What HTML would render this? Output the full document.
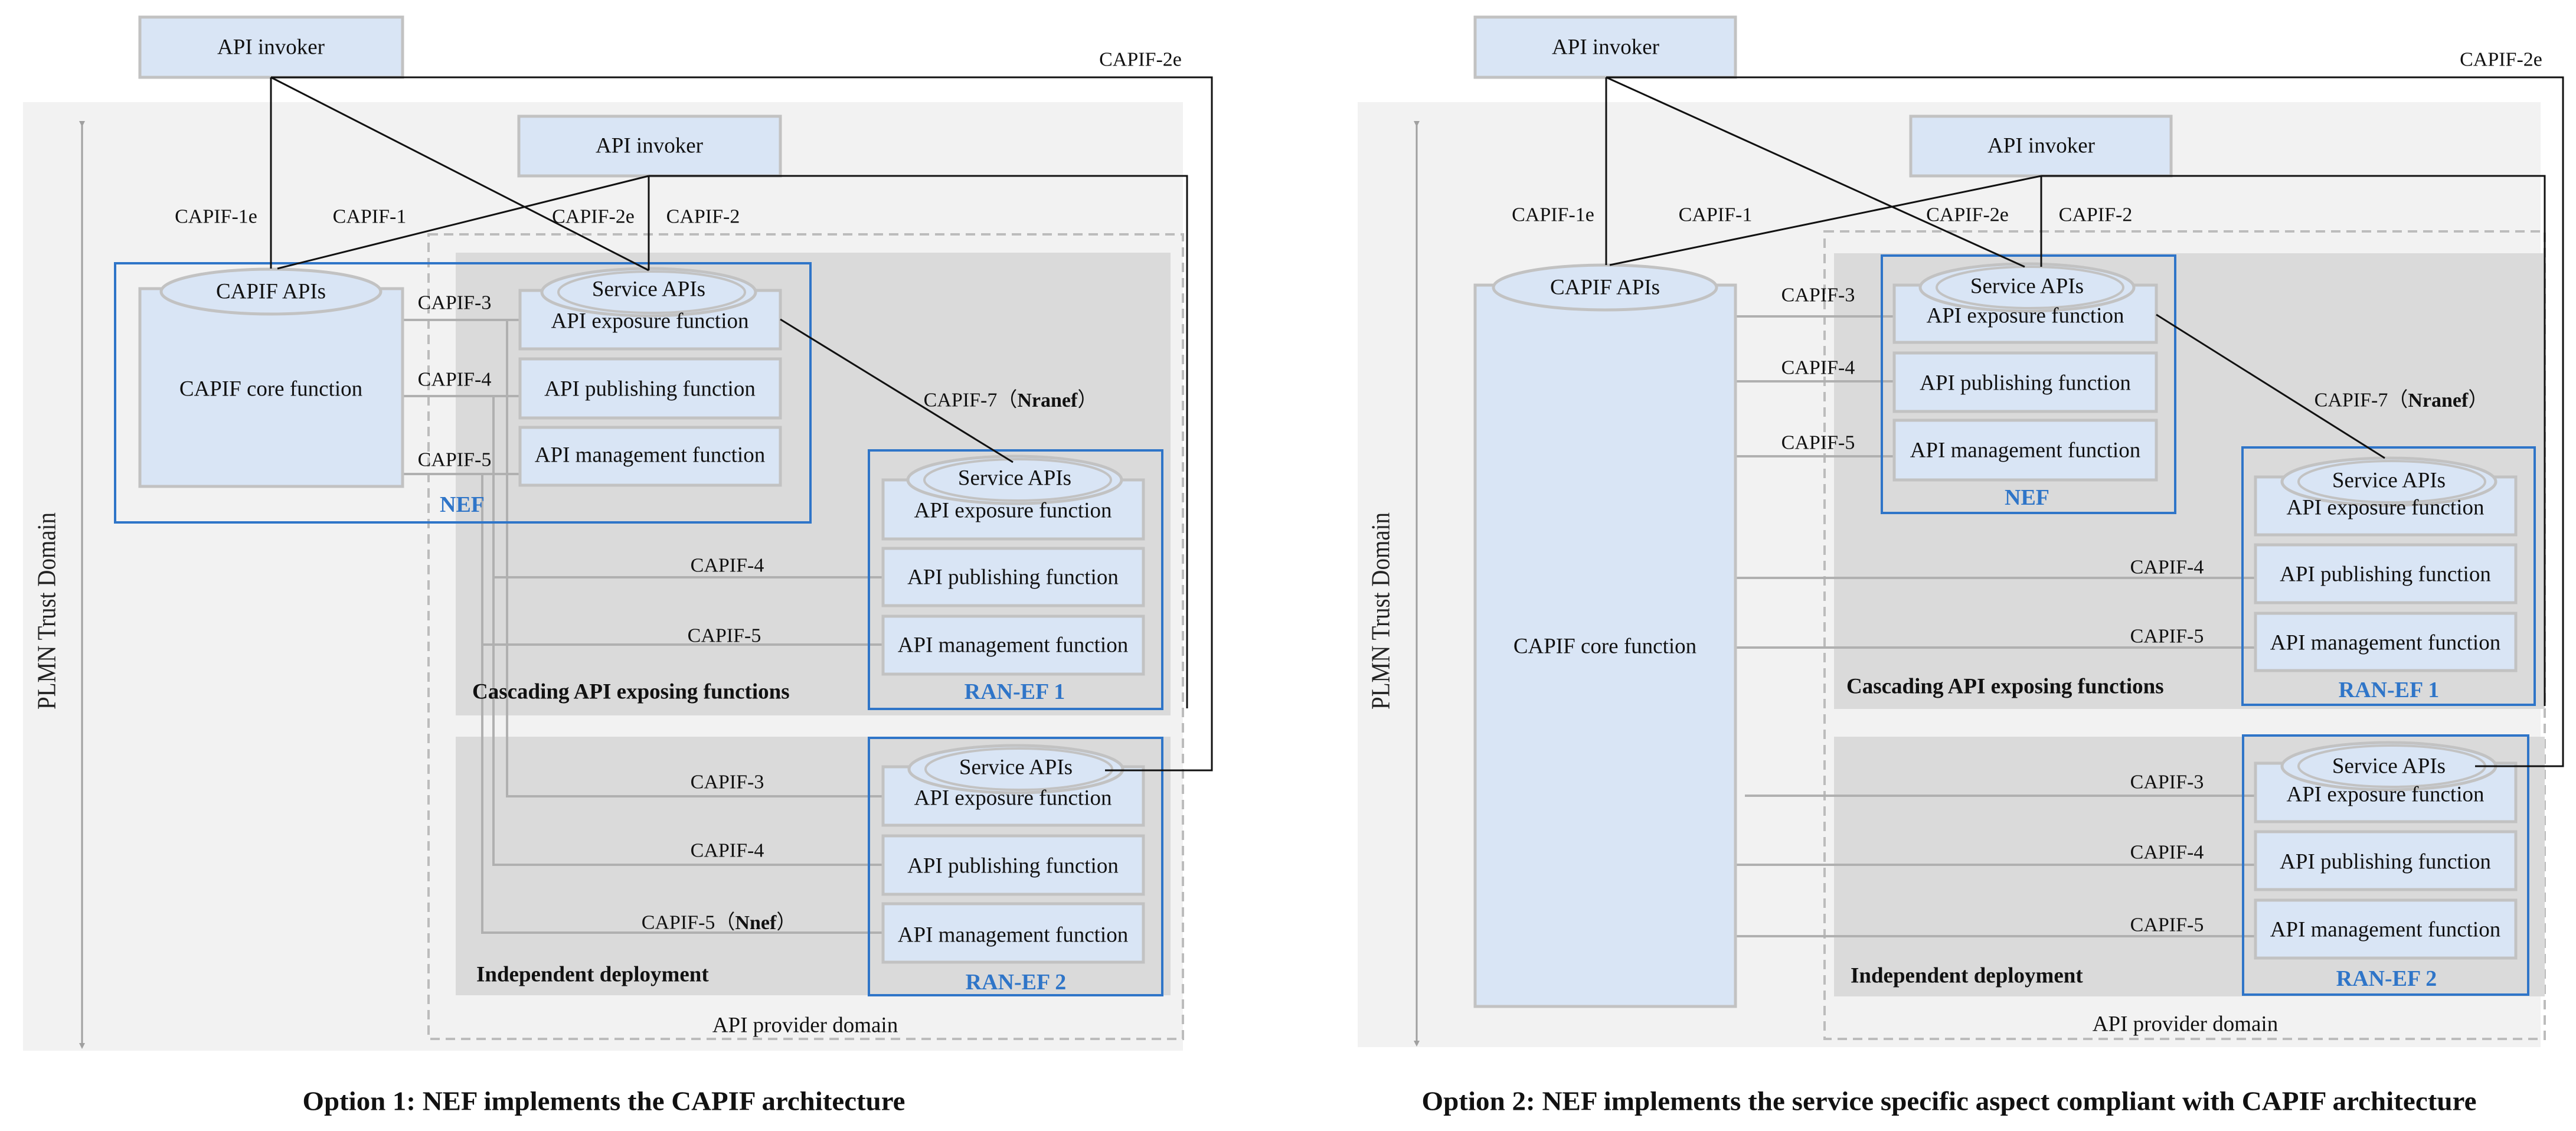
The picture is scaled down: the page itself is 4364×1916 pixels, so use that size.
<!DOCTYPE html>
<html><head><meta charset="utf-8"><style>
html,body{margin:0;padding:0;background:#fff;}
svg{display:block;}
</style></head><body>
<svg width="4364" height="1916" viewBox="0 0 4364 1916" xmlns="http://www.w3.org/2000/svg" font-family="'Liberation Serif', serif">
<defs>
<marker id="ah" markerWidth="10" markerHeight="10" refX="5" refY="5" orient="auto" markerUnits="userSpaceOnUse" viewBox="0 0 10 10"><path d="M0,0 L10,5 L0,10 z" fill="#a0a0a0"/></marker>
</defs>
<style>
text{font-family:'Liberation Serif',serif;fill:#111;}
.bx{fill:#d9e5f5;stroke:#c2c2c2;stroke-width:5}
.blue{fill:none;stroke:#2f75c8;stroke-width:4}
.gl{stroke:#b0b0b0;stroke-width:4;fill:none}
.bl{stroke:#111;stroke-width:3;fill:none}
.t{font-family:'Liberation Serif',serif;font-size:37px;text-anchor:middle;dominant-baseline:central}
.lb{font-family:'Liberation Serif',serif;font-size:34px;text-anchor:middle;dominant-baseline:central}
.bt{font-family:'Liberation Serif',serif;font-size:37px;font-weight:bold;dominant-baseline:central}
.bb{font-family:'Liberation Serif',serif;font-size:38px;font-weight:bold;fill:#2f75c8;text-anchor:middle;dominant-baseline:central}
.cap{font-family:'Liberation Serif',serif;font-size:46px;font-weight:bold;text-anchor:middle;dominant-baseline:central}
.pl{font-family:'Liberation Serif',serif;font-size:44px;text-anchor:middle;dominant-baseline:central;fill:#222}
.ell{fill:#d9e5f5;stroke:#c2c2c2;stroke-width:5}
.ell2{fill:none;stroke:#c2c2c2;stroke-width:4}
</style>

<!-- ================= LEFT PANEL ================= -->
<rect x="39" y="173" width="1965" height="1607" fill="#f2f2f2"/>
<rect x="726" y="397" width="1278" height="1363" fill="none" stroke="#bcbcbc" stroke-width="4" stroke-dasharray="16,10"/>
<rect x="772" y="428" width="1211" height="784" fill="#dadada"/>
<rect x="772" y="1248" width="1211" height="438" fill="#dadada"/>
<line x1="139" y1="210" x2="139" y2="1772" stroke="#a0a0a0" stroke-width="3" marker-start="url(#ah)" marker-end="url(#ah)"/>
<text class="pl" x="79" y="1035" textLength="334" lengthAdjust="spacingAndGlyphs" transform="rotate(-90 79 1035)">PLMN Trust Domain</text>

<path class="gl" d="M682,542H881 M859,542V1349H1496 M682,671H881 M836,671V1465H1496 M836,978H1496 M682,803H881 M817,803V1580H1496 M817,1092H1496"/>

<rect class="bx" x="237" y="29" width="445" height="102"/>
<rect class="bx" x="879" y="197" width="443" height="101"/>
<rect class="bx" x="237" y="489" width="445" height="335"/>
<rect class="blue" x="195" y="446" width="1178" height="439"/>
<rect class="bx" x="881" y="492" width="441" height="99"/>
<rect class="bx" x="881" y="608" width="441" height="100"/>
<rect class="bx" x="881" y="724" width="441" height="98"/>
<rect class="blue" x="1472" y="763" width="497" height="438"/>
<rect class="bx" x="1496" y="813" width="441" height="100"/>
<rect class="bx" x="1496" y="929" width="441" height="97"/>
<rect class="bx" x="1496" y="1044" width="441" height="98"/>
<rect class="blue" x="1472" y="1250" width="497" height="436"/>
<rect class="bx" x="1496" y="1299" width="441" height="99"/>
<rect class="bx" x="1496" y="1416" width="441" height="99"/>
<rect class="bx" x="1496" y="1531" width="441" height="99"/>

<ellipse class="ell" cx="459" cy="494" rx="186" ry="38"/>
<ellipse class="ell" cx="1099" cy="495" rx="181" ry="40"/><ellipse class="ell2" cx="1104" cy="495" rx="158" ry="35"/>
<ellipse class="ell" cx="1719" cy="813" rx="181" ry="40"/><ellipse class="ell2" cx="1724" cy="813" rx="158" ry="35"/>
<ellipse class="ell" cx="1721" cy="1303" rx="181" ry="40"/><ellipse class="ell2" cx="1726" cy="1303" rx="158" ry="35"/>

<path class="bl" d="M459,131V455 M459,131L1099,458 M459,131H2053V1305H1872 M1099,298V458 M1099,298L470,455 M1099,298H2011V1200 M1322,541L1716,783"/>

<text class="t" x="459" y="80">API invoker</text>
<text class="t" x="1100" y="247">API invoker</text>
<text class="lb" x="1932" y="101">CAPIF-2e</text>
<text class="lb" x="366" y="367">CAPIF-1e</text>
<text class="lb" x="626" y="367">CAPIF-1</text>
<text class="lb" x="1005" y="367">CAPIF-2e</text>
<text class="lb" x="1191" y="367">CAPIF-2</text>
<text class="t" x="459" y="494">CAPIF APIs</text>
<text class="t" x="459" y="659">CAPIF core function</text>
<text class="t" x="1099" y="490">Service APIs</text>
<text class="t" x="1101" y="544">API exposure function</text>
<text class="t" x="1101" y="659">API publishing function</text>
<text class="t" x="1101" y="771">API management function</text>
<text class="lb" x="770" y="513">CAPIF-3</text>
<text class="lb" x="770" y="643">CAPIF-4</text>
<text class="lb" x="770" y="779">CAPIF-5</text>
<text class="bb" x="783" y="855">NEF</text>
<text class="lb" x="1712" y="678">CAPIF-7（<tspan font-weight="bold">Nranef</tspan>）</text>
<text class="t" x="1719" y="810">Service APIs</text>
<text class="t" x="1716" y="865">API exposure function</text>
<text class="t" x="1716" y="978">API publishing function</text>
<text class="t" x="1716" y="1093">API management function</text>
<text class="lb" x="1232" y="958">CAPIF-4</text>
<text class="lb" x="1227" y="1077">CAPIF-5</text>
<text class="bt" x="800" y="1172">Cascading API exposing functions</text>
<text class="bb" x="1719" y="1172">RAN-EF 1</text>
<text class="t" x="1721" y="1300">Service APIs</text>
<text class="t" x="1716" y="1352">API exposure function</text>
<text class="t" x="1716" y="1467">API publishing function</text>
<text class="t" x="1716" y="1584">API management function</text>
<text class="lb" x="1232" y="1325">CAPIF-3</text>
<text class="lb" x="1232" y="1441">CAPIF-4</text>
<text class="lb" x="1218" y="1563">CAPIF-5（<tspan font-weight="bold">Nnef</tspan>）</text>
<text class="bt" x="807" y="1651">Independent deployment</text>
<text class="bb" x="1721" y="1664">RAN-EF 2</text>
<text class="t" x="1364" y="1737">API provider domain</text>
<text class="cap" x="1023" y="1865" textLength="1021" lengthAdjust="spacingAndGlyphs">Option 1: NEF implements the CAPIF architecture</text>

<!-- ================= RIGHT PANEL ================= -->
<rect x="2300" y="173" width="2004" height="1601" fill="#f2f2f2"/>
<rect x="3091" y="392" width="1220" height="1368" fill="none" stroke="#bcbcbc" stroke-width="4" stroke-dasharray="16,10"/>
<rect x="3107" y="429" width="1204" height="772" fill="#dadada"/>
<rect x="3107" y="1248" width="1204" height="440" fill="#dadada"/>
<line x1="2400" y1="210" x2="2400" y2="1768" stroke="#a0a0a0" stroke-width="3" marker-start="url(#ah)" marker-end="url(#ah)"/>
<text class="pl" x="2339" y="1035" textLength="334" lengthAdjust="spacingAndGlyphs" transform="rotate(-90 2339 1035)">PLMN Trust Domain</text>

<path class="gl" d="M2940,536H3209 M2940,646H3209 M2940,773H3209 M2940,979H3821 M2940,1097H3821 M2956,1348H3821 M2940,1465H3821 M2940,1586H3821"/>

<rect class="bx" x="2499" y="29" width="441" height="102"/>
<rect class="bx" x="3237" y="197" width="441" height="101"/>
<rect class="bx" x="2499" y="483" width="441" height="1222"/>
<rect class="blue" x="3188" y="433" width="497" height="436"/>
<rect class="bx" x="3209" y="483" width="444" height="97"/>
<rect class="bx" x="3209" y="598" width="444" height="99"/>
<rect class="bx" x="3209" y="712" width="444" height="101"/>
<rect class="blue" x="3799" y="758" width="495" height="436"/>
<rect class="bx" x="3821" y="808" width="441" height="98"/>
<rect class="bx" x="3821" y="923" width="441" height="98"/>
<rect class="bx" x="3821" y="1039" width="441" height="97"/>
<rect class="blue" x="3800" y="1246" width="483" height="439"/>
<rect class="bx" x="3821" y="1293" width="441" height="99"/>
<rect class="bx" x="3821" y="1409" width="441" height="98"/>
<rect class="bx" x="3821" y="1525" width="441" height="98"/>

<ellipse class="ell" cx="2719" cy="487" rx="189" ry="38"/>
<ellipse class="ell" cx="3434" cy="487" rx="181" ry="40"/><ellipse class="ell2" cx="3439" cy="487" rx="158" ry="35"/>
<ellipse class="ell" cx="4047" cy="816" rx="181" ry="40"/><ellipse class="ell2" cx="4052" cy="816" rx="158" ry="35"/>
<ellipse class="ell" cx="4047" cy="1298" rx="181" ry="40"/><ellipse class="ell2" cx="4052" cy="1298" rx="158" ry="35"/>

<path class="bl" d="M2721,131V449 M2721,131L3430,452 M2721,131H4342V1298H4193 M3458,298V452 M3458,298L2727,449 M3458,298H4311V1196 M3653,533L4040,776"/>

<text class="t" x="2720" y="80">API invoker</text>
<text class="t" x="3458" y="247">API invoker</text>
<text class="lb" x="4237" y="101">CAPIF-2e</text>
<text class="lb" x="2631" y="364">CAPIF-1e</text>
<text class="lb" x="2906" y="364">CAPIF-1</text>
<text class="lb" x="3333" y="364">CAPIF-2e</text>
<text class="lb" x="3550" y="364">CAPIF-2</text>
<text class="t" x="2719" y="487">CAPIF APIs</text>
<text class="t" x="2719" y="1095">CAPIF core function</text>
<text class="t" x="3434" y="485">Service APIs</text>
<text class="t" x="3431" y="535">API exposure function</text>
<text class="t" x="3431" y="649">API publishing function</text>
<text class="t" x="3431" y="763">API management function</text>
<text class="lb" x="3080" y="500">CAPIF-3</text>
<text class="lb" x="3080" y="623">CAPIF-4</text>
<text class="lb" x="3080" y="750">CAPIF-5</text>
<text class="bb" x="3434" y="843">NEF</text>
<text class="lb" x="4068" y="678">CAPIF-7（<tspan font-weight="bold">Nranef</tspan>）</text>
<text class="t" x="4047" y="814">Service APIs</text>
<text class="t" x="4041" y="860">API exposure function</text>
<text class="t" x="4041" y="973">API publishing function</text>
<text class="t" x="4041" y="1089">API management function</text>
<text class="lb" x="3671" y="961">CAPIF-4</text>
<text class="lb" x="3671" y="1078">CAPIF-5</text>
<text class="bt" x="3128" y="1163">Cascading API exposing functions</text>
<text class="bb" x="4047" y="1169">RAN-EF 1</text>
<text class="t" x="4047" y="1298">Service APIs</text>
<text class="t" x="4041" y="1346">API exposure function</text>
<text class="t" x="4041" y="1460">API publishing function</text>
<text class="t" x="4041" y="1575">API management function</text>
<text class="lb" x="3671" y="1325">CAPIF-3</text>
<text class="lb" x="3671" y="1444">CAPIF-4</text>
<text class="lb" x="3671" y="1567">CAPIF-5</text>
<text class="bt" x="3135" y="1653">Independent deployment</text>
<text class="bb" x="4043" y="1658">RAN-EF 2</text>
<text class="t" x="3702" y="1735">API provider domain</text>
<text class="cap" x="3302" y="1865" textLength="1787" lengthAdjust="spacingAndGlyphs">Option 2: NEF implements the service specific aspect compliant with CAPIF architecture</text>
</svg>
</body></html>
